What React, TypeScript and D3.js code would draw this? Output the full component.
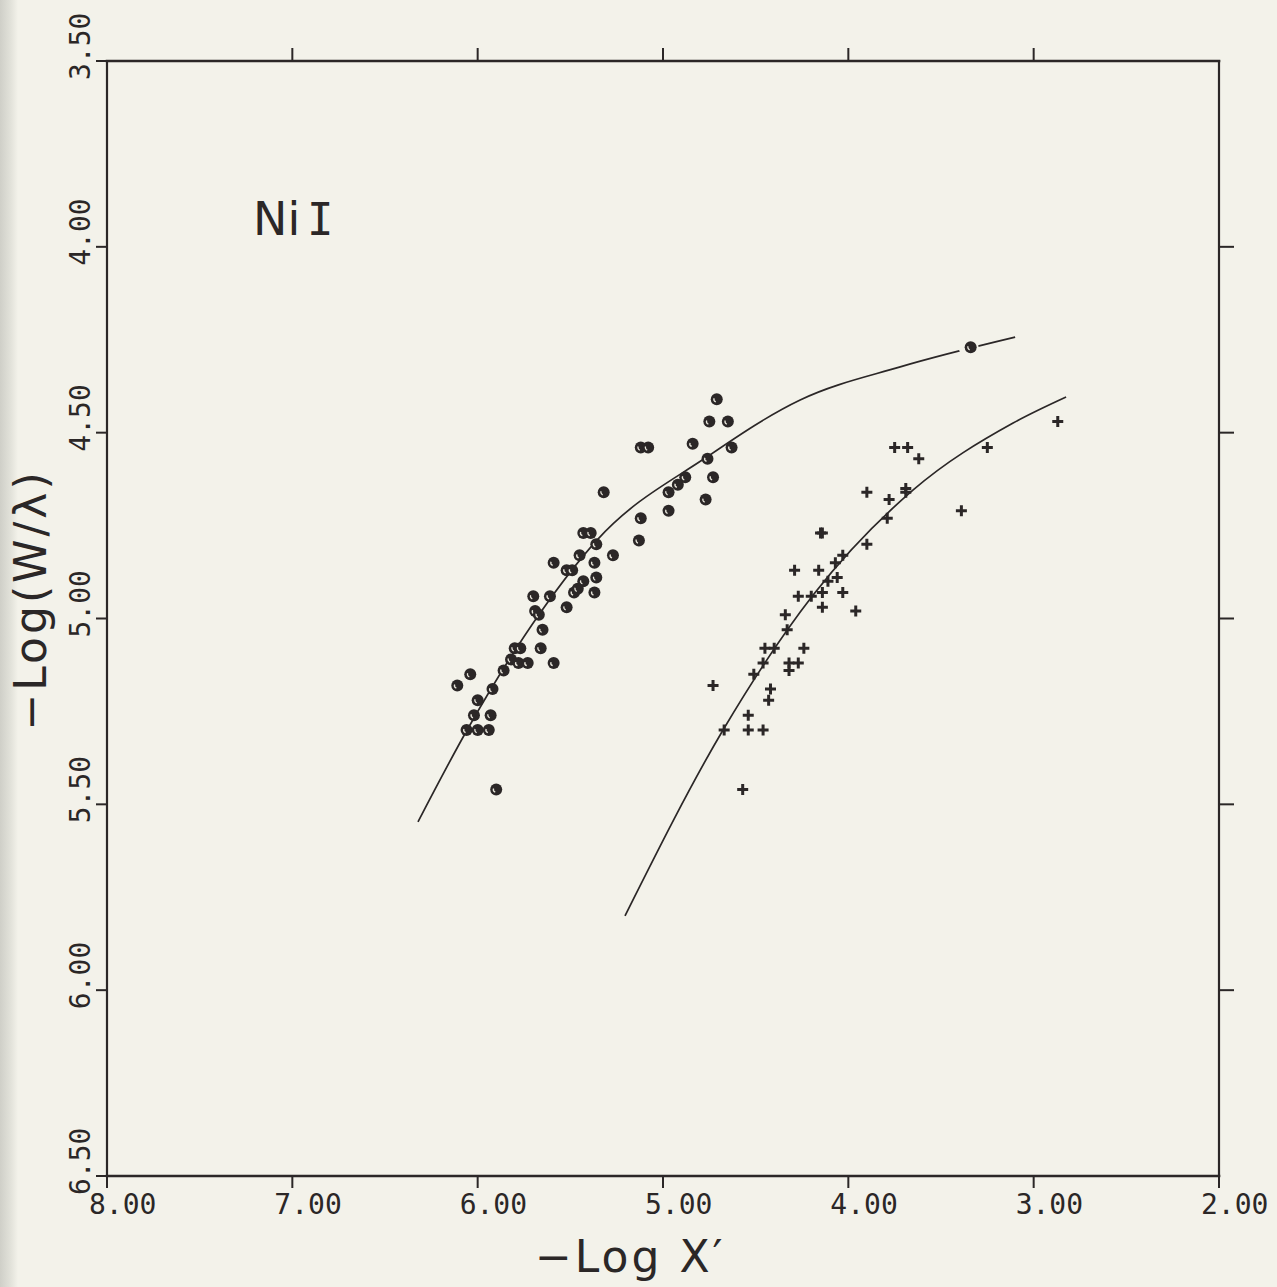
import React from "react";
import * as d3 from "d3";

// ---- Data ----
const xTicks = [8, 7, 6, 5, 4, 3, 2];
const xTopTicks = [7, 6, 5, 4, 3];
const yTicks = [3.5, 4.0, 4.5, 5.0, 5.5, 6.0, 6.5];
const yRightTicks = [4.0, 4.5, 5.0, 5.5, 6.0];

// Curve of growth for the "o" points
const curveCircles: [number, number][] = [
  [6.322, 5.547], [6.057, 5.3], [5.663, 4.985], [5.356, 4.789],
  [4.762, 4.565], [4.26, 4.412], [3.72, 4.323], [3.1, 4.243],
];

// Curve of growth for the "+" points
const curvePlus: [number, number][] = [
  [5.205, 5.8], [4.676, 5.3], [4.19, 4.937], [3.65, 4.654],
  [3.111, 4.474], [2.825, 4.404],
];

const circlePoints: [number, number][] = [
  [4.71, 4.41], [4.75, 4.47], [4.65, 4.47], [4.84, 4.53], [5.12, 4.54], [5.08, 4.54],
  [4.63, 4.54], [4.76, 4.57], [4.73, 4.62], [4.88, 4.62], [4.92, 4.64], [4.97, 4.66],
  [4.77, 4.68], [4.97, 4.71], [5.32, 4.66], [5.12, 4.73], [5.13, 4.79], [5.43, 4.77],
  [5.39, 4.77], [5.36, 4.80], [5.45, 4.83], [5.27, 4.83], [5.59, 4.85], [5.52, 4.87],
  [5.49, 4.87], [5.37, 4.85], [5.36, 4.89], [5.43, 4.90], [5.48, 4.93], [5.46, 4.92],
  [5.37, 4.93], [5.70, 4.94], [5.61, 4.94], [5.52, 4.97], [5.69, 4.98], [5.67, 4.99],
  [5.65, 5.03], [5.80, 5.08], [5.77, 5.08], [5.66, 5.08], [5.82, 5.11], [5.78, 5.12],
  [5.73, 5.12], [5.59, 5.12], [6.04, 5.15], [5.86, 5.14], [6.11, 5.18], [5.92, 5.19],
  [6.00, 5.22], [6.02, 5.26], [5.93, 5.26], [6.06, 5.30], [6.00, 5.30], [5.94, 5.30],
  [5.90, 5.46],
];
const isolatedCircle: [number, number] = [3.34, 4.27];

const plusPoints: [number, number][] = [
  [2.87, 4.47], [3.75, 4.54], [3.68, 4.54], [3.25, 4.54], [3.62, 4.57], [3.69, 4.65],
  [3.69, 4.66], [3.90, 4.66], [3.78, 4.68], [3.39, 4.71], [3.79, 4.73], [4.15, 4.77],
  [4.14, 4.77], [3.90, 4.80], [4.07, 4.85], [4.03, 4.83], [4.29, 4.87], [4.16, 4.87],
  [4.06, 4.89], [4.11, 4.90], [4.14, 4.93], [4.27, 4.94], [4.20, 4.94], [4.03, 4.93],
  [4.14, 4.97], [3.96, 4.98], [4.34, 4.99], [4.33, 5.03], [4.45, 5.08], [4.40, 5.08],
  [4.24, 5.08], [4.46, 5.12], [4.32, 5.12], [4.32, 5.14], [4.27, 5.12], [4.51, 5.15],
  [4.42, 5.19], [4.43, 5.22], [4.73, 5.18], [4.54, 5.26], [4.67, 5.30], [4.54, 5.30],
  [4.46, 5.30], [4.57, 5.46],
];

const xLabel = "−Log X′";
const yLabel = "−Log(W/λ)";

// ---- Styles ----
const W = 1277;
const H = 1287;
const BG = "#f3f2ea";
const INK = "#2b2727";
const MONO = "'DejaVu Sans Mono', 'Liberation Mono', monospace";
const SANS = "'DejaVu Sans', 'Noto Sans', sans-serif";

export default function App() {
  const x = d3.scaleLinear().domain([8, 2]).range([107, 1219]);
  const y = d3.scaleLinear().domain([3.5, 6.5]).range([61, 1176]);
  const [x0, x1] = x.range();
  const [y0, y1] = y.range();

  const line = d3
    .line<[number, number]>()
    .x((d) => x(d[0]))
    .y((d) => y(d[1]))
    .curve(d3.curveMonotoneX);

  const crescent = (cx: number, cy: number) => {
    const r = 2.8;
    const a0 = (110 * Math.PI) / 180;
    const a1 = (200 * Math.PI) / 180;
    return `M${cx + r * Math.cos(a0)},${cy + r * Math.sin(a0)} A${r},${r} 0 0 1 ${
      cx + r * Math.cos(a1)
    },${cy + r * Math.sin(a1)}`;
  };

  const circleMark = (d: [number, number], i: number) => (
    <g key={"c" + i}>
      <circle cx={x(d[0])} cy={y(d[1])} r={6} fill={INK} />
      <path d={crescent(x(d[0]), y(d[1]))} stroke="#e8e6dc" strokeWidth={1.3} fill="none" />
    </g>
  );

  return (
    <div style={{ position: "absolute", left: 0, top: 0 }}>
      <svg width={W} height={H} viewBox={`0 0 ${W} ${H}`} style={{ display: "block" }}>
        <defs>
          <linearGradient id="edge" x1="0" x2="1" y1="0" y2="0">
            <stop offset="0" stopColor="#cfcfc8" />
            <stop offset="0.6" stopColor="#e2e2da" />
            <stop offset="1" stopColor={BG} />
          </linearGradient>
        </defs>
        <rect x={0} y={0} width={W} height={H} fill={BG} />
        <rect x={0} y={0} width={18} height={H} fill="url(#edge)" />

        {/* frame */}
        <g stroke={INK} fill="none" strokeLinecap="square">
          <line x1={x0} y1={y0} x2={x1} y2={y0} strokeWidth={2.6} />
          <line x1={x0} y1={y1} x2={x1} y2={y1} strokeWidth={2.6} />
          <line x1={x0} y1={y0} x2={x0} y2={y1} strokeWidth={2.2} />
          <line x1={x1} y1={y0} x2={x1} y2={y1} strokeWidth={2.2} />
        </g>

        {/* ticks */}
        <g stroke={INK} strokeWidth={2}>
          {xTicks.map((t) => (
            <line key={"bx" + t} x1={x(t)} x2={x(t)} y1={y1} y2={y1 + 12} />
          ))}
          {xTopTicks.map((t) => (
            <line key={"tx" + t} x1={x(t)} x2={x(t)} y1={y0} y2={y0 - 13} />
          ))}
          {yTicks.map((t) => (
            <line key={"ly" + t} x1={x0 - 11} x2={x0} y1={y(t)} y2={y(t)} />
          ))}
          {yRightTicks.map((t) => (
            <line key={"ry" + t} x1={x1} x2={x1 + 15} y1={y(t)} y2={y(t)} />
          ))}
        </g>

        {/* tick labels */}
        <g fill={INK} fontFamily={MONO} fontSize={28}>
          {xTicks.map((t) => (
            <text key={"xl" + t} x={x(t) - 18} y={1214} textAnchor="start">
              {t.toFixed(2)}
            </text>
          ))}
          {yTicks.map((t) => (
            <text
              key={"yl" + t}
              transform={`translate(90,${y(t) + 19}) rotate(-90)`}
              textAnchor="start"
            >
              {t.toFixed(2)}
            </text>
          ))}
        </g>

        {/* axis titles */}
        <text
          x={535}
          y={1272}
          fill={INK}
          fontFamily={SANS}
          fontSize={44}
          letterSpacing={3}
        >
          {xLabel}
        </text>
        <text
          transform={`translate(46,600) rotate(-90)`}
          textAnchor="middle"
          fill={INK}
          fontFamily={SANS}
          fontSize={44}
          letterSpacing={3}
        >
          {yLabel}
        </text>

        {/* element label */}
        <text x={253} y={235} fill={INK} fontFamily={SANS} fontSize={46}>
          <tspan>Ni</tspan>
          <tspan x={307} fontFamily={MONO} fontSize={44}>I</tspan>
        </text>

        {/* curves */}
        <path d={line(curveCircles) || ""} fill="none" stroke={INK} strokeWidth={1.7} />
        <path d={line(curvePlus) || ""} fill="none" stroke={INK} strokeWidth={1.7} />

        {/* points */}
        <circle cx={x(isolatedCircle[0]) - 2} cy={y(isolatedCircle[1])} r={10} fill={BG} />
        {circleMark(isolatedCircle, -1)}
        {circlePoints.map((d, i) => circleMark(d, i))}
        <g stroke={INK} strokeWidth={3}>
          {plusPoints.map((d, i) => (
            <path
              key={"p" + i}
              d={`M${x(d[0]) - 5.5},${y(d[1])}H${x(d[0]) + 5.5}M${x(d[0])},${y(d[1]) - 5.5}V${y(d[1]) + 5.5}`}
            />
          ))}
        </g>
      </svg>
    </div>
  );
}
